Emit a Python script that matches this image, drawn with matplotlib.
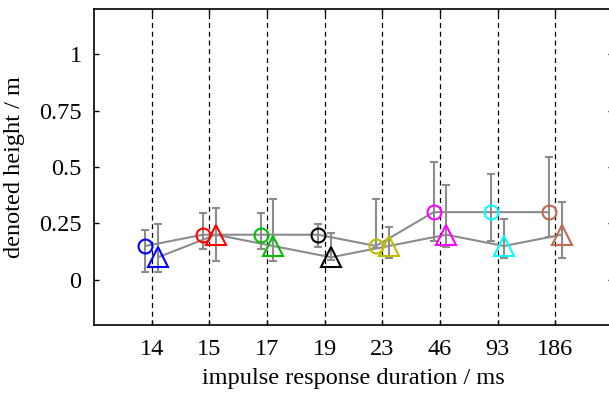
import matplotlib
matplotlib.use("Agg")
import matplotlib.pyplot as plt
import numpy as np

plt.rcParams['font.family'] = ['Liberation Serif', 'DejaVu Serif']

durations = ["14", "15", "17", "19", "23", "46", "93", "186"]
colors = ["#0000ff", "#ff0000", "#00c000", "#000000", "#bfbf00", "#ff00ff", "#00ffff", "#c06a50"]

circ_val = [0.15, 0.20, 0.20, 0.20, 0.15, 0.30, 0.30, 0.30]
circ_low = [0.035, 0.135, 0.135, 0.147, 0.14, 0.17, 0.172, 0.19]
circ_high = [0.223, 0.294, 0.294, 0.248, 0.358, 0.521, 0.47, 0.546]

tri_val = [0.10, 0.20, 0.15, 0.10, 0.15, 0.20, 0.15, 0.20]
tri_low = [0.037, 0.084, 0.084, 0.09, 0.098, 0.145, 0.098, 0.098]
tri_high = [0.248, 0.32, 0.358, 0.206, 0.233, 0.42, 0.27, 0.347]

fig = plt.figure(figsize=(6.09, 3.94), dpi=100)
ax = fig.add_axes([94/609, 69/394, 519/609, 316/394])

x = np.arange(1, len(durations) + 1)
gray = "#8c8c8c"

for xi in x:
    ax.axvline(xi, color="black", ls=(0, (4, 3)), lw=0.9, zorder=1)

off = 0.11
for vals, lo, hi, dx, mk in [(circ_val, circ_low, circ_high, -off, "o"),
                              (tri_val, tri_low, tri_high, off, "^")]:
    vals = np.array(vals); lo = np.array(lo); hi = np.array(hi)
    xs = x + dx
    ax.errorbar(xs, vals, yerr=[vals - lo, hi - vals], fmt="none", ecolor=gray,
                elinewidth=1.5, capsize=3, capthick=1.5, zorder=2)
    ax.plot(xs, vals, color=gray, lw=1.5, zorder=3)
    for xi, v, c in zip(xs, vals, colors):
        ax.plot(xi, v, marker=mk, ms=10 if mk == "o" else 14, mfc="none", mec=c, mew=1.5,
                ls="none", zorder=4)

ax.set_xlim(0, 9)
ax.set_ylim(-0.2, 1.2)
ax.set_xticks(x)
ax.set_xticklabels(durations)
ax.set_yticks([0, 0.25, 0.5, 0.75, 1])
ax.set_yticklabels(["0", "0.25", "0.5", "0.75", "1"])
ax.tick_params(direction="in", length=3.5, width=1, labelsize=17.5, top=True, right=True)
ax.tick_params(axis="x", pad=10)
ax.tick_params(axis="y", pad=9)
for s in ax.spines.values():
    s.set_linewidth(1.2)
ax.set_xlabel("impulse response duration / ms", fontsize=17.5, labelpad=6)
ax.set_ylabel("denoted height / m", fontsize=17.5, labelpad=10)

fig.savefig("out.png", dpi=100)
